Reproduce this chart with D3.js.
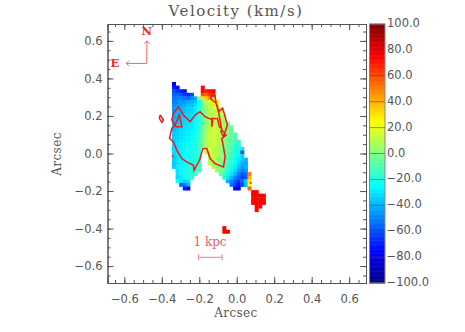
<!DOCTYPE html>
<html>
<head>
<meta charset="utf-8">
<script src="https://cdn.jsdelivr.net/npm/d3@7"></script>
<style>
  html, body { margin: 0; padding: 0; background: #fff; }
  svg { display: block; }
  text { fill: #555; font-family: "DejaVu Sans", sans-serif; font-size: 11.5px; }
  .serif { font-family: "DejaVu Serif", serif; }
  .axis path, .axis line { stroke: #555; stroke-width: 1; fill: none; }
  .note { fill: #ff2020; font-family: "DejaVu Serif", serif; }
</style>
</head>
<body>
<svg width="465" height="332"></svg>
<script>
// axis ticks
const axisTicks = [-0.6, -0.4, -0.2, 0, 0.2, 0.4, 0.6];
const minorTicks = d3.range(-13, 14).map(d => d * 0.05);
const barTicks = [-100, -80, -60, -40, -20, 0, 20, 40, 60, 80, 100];

// velocity map: row index, first column, then one value per cell
const cellRows = [0, 1, 1, 2, 2, 3, 3, 4, 5, 6, 7, 8, 9, 10, 11, 12, 13, 14, 15, 16, 17, 18, 18, 19, 19, 20, 20, 21, 21, 22, 22, 23, 23, 24, 24, 25, 25, 26, 26, 27, 27, 28, 28, 29, 29, 29, 30, 31, 32, 33, 34, 35, 40, 41];
const cellStarts = [0, 0, 8, 0, 8, 0, 8, 0, 0, 0, 0, 0, 0, 0, 0, 0, 0, 0, 0, 0, 0, 0, 9, 0, 9, 0, 10, 0, 10, 0, 10, 0, 11, 1, 12, 1, 13, 1, 14, 1, 15, 2, 16, 3, 17, 21, 22, 22, 22, 22, 23, 23, 14, 14];
const cellValues = [
  [-78],
  [-70, -75],
  [75],
  [-60, -65, -70, -72],
  [76, 70, 72, 75],
  [-55, -55, -60, -65, -68, -60],
  [60, 55, 65, 70],
  [-52, -50, -50, -52, -55, -48, -42, 0, 30, 35, 45, 30],
  [-50, -48, -45, -45, -42, -40, -35, -25, -2, 12, 18, 22, 20],
  [-47, -45, -42, -40, -38, -36, -30, -20, -5, 6, 12, 16, 18],
  [-45, -42, -40, -38, -35, -33, -28, -18, -6, 4, 10, 13, 15, 13],
  [-42, -40, -38, -36, -33, -32, -28, -18, -8, 2, 9, 11, 13, 11],
  [-42, -40, -36, -34, -32, -30, -26, -18, -8, 2, 8, 11, 12, 11, 6],
  [-40, -38, -35, -33, -32, -30, -26, -18, -8, 2, 9, 12, 12, 10, 5],
  [-38, -37, -34, -32, -30, -28, -25, -18, -8, 2, 9, 13, 13, 11, 5, 0],
  [-38, -36, -33, -31, -30, -28, -24, -16, -6, 4, 11, 14, 14, 11, 5, 0, -4],
  [-37, -35, -32, -30, -28, -27, -23, -16, -5, 5, 12, 15, 14, 11, 4, 0, -4],
  [-35, -34, -31, -29, -28, -26, -22, -15, -4, 6, 13, 15, 14, 10, 3, -2, -6, -8],
  [-34, -32, -30, -28, -27, -25, -21, -14, -3, 7, 13, 15, 13, 9, 2, -3, -7, -10],
  [-33, -31, -29, -27, -26, -24, -20, -13, -2, 8, 13, 14, 12, 8, 1, -4, -8, -12, -15],
  [-32, -30, -28, -27, -25, -23, -20, -12, -2, 8, 13, 14, 11, 7, 0, -5, -10, -14, -18],
  [-32, -30, -28, -26, -25, -23, -20, -14],
  [10, 13, 13, 10, 4, -2, -7, -12, -18, -22, -28],
  [-32, -30, -28, -26, -24, -22, -19, -15],
  [10, 13, 13, 10, 4, -2, -8, -13, -18, -24, -55],
  [-33, -30, -28, -26, -24, -22, -19, -15],
  [13, 13, 10, 4, -2, -8, -13, -19, -25, -32],
  [-34, -30, -27, -25, -23, -21, -18, -14],
  [11, 10, 7, 2, -4, -10, -16, -22, -28, -35, -38],
  [-35, -30, -27, -24, -22, -20, -17, -14],
  [10, 9, 5, 0, -6, -12, -18, -25, -32, -40, -42],
  [-34, -28, -25, -22, -20, -18, -15, -12],
  [8, 3, -2, -8, -14, -20, -28, -36, -44, -40],
  [-30, -26, -23, -20, -18, -16, -14],
  [5, -2, -8, -16, -24, -32, -42, -50, -45],
  [-30, -26, -22, -19, -17, -15],
  [-6, -12, -22, -30, -40, -50, -58, -55, 50],
  [-32, -28, -23, -20, -18],
  [-18, -28, -38, -48, -55, -62, -58, 40],
  [-22, -30, -35, -30],
  [-40, -50, -60, -65, -55, -35, 30],
  [-55, -50, -40],
  [-52, -62, -70, -60, -40, 25],
  [-70, -78],
  [-75, -78],
  [55],
  [75, 75],
  [75, 75, 75, 75],
  [75, 75, 75, 75],
  [75, 75, 75, 75],
  [75, 75],
  [75],
  [75],
  [75, 75]
];

// flux contours in arcsec
const contourX = [-0.142, -0.116, -0.110, -0.098, -0.075, -0.062, -0.050, -0.071, -0.084, -0.080, -0.093, -0.103, -0.133, -0.133, -0.128, -0.169, -0.196, -0.222, -0.249, -0.285, -0.311, -0.338, -0.347, -0.329, -0.347, -0.359, -0.338, -0.320, -0.293, -0.267, -0.231, -0.228, -0.199, -0.196, -0.181, -0.160, -0.142, -0.116, -0.071, -0.062, -0.071, -0.080, -0.057, -0.080, -0.089, -0.103, -0.110, -0.133, -0.142];
const contourY = [0.303, 0.307, 0.268, 0.223, 0.241, 0.196, 0.152, 0.089, 0.116, 0.134, 0.143, 0.187, 0.187, 0.143, 0.178, 0.196, 0.223, 0.205, 0.170, 0.205, 0.250, 0.214, 0.178, 0.152, 0.134, 0.080, 0.062, 0.018, -0.027, -0.045, -0.063, -0.090, -0.036, -0.027, 0.027, 0.027, -0.027, -0.054, -0.072, -0.018, 0.035, 0.080, 0.098, 0.125, 0.178, 0.250, 0.268, 0.285, 0.303];
const loopX = [-0.329, -0.306, -0.293, -0.324, -0.338, -0.329];
const loopY = [0.152, 0.205, 0.143, 0.143, 0.160, 0.152];
const diamondX = [-0.409, -0.391, -0.400, -0.413, -0.409];
const diamondY = [0.205, 0.178, 0.166, 0.187, 0.205];
const spotX = [-0.342, 0.026, 0.074];
const spotY = [-0.014, 0.005, -0.157];

// IDL style rainbow
const velocityColor = d3.scaleLinear()
  .domain([-100, -75, -25, 25, 75, 100])
  .range(["#00007f", "#0000ff", "#00ffff", "#ffff00", "#ff0000", "#7f0000"])
  .clamp(true);

const svg = d3.select("svg");
const plotLeft = 107.5, plotRight = 366, plotTop = 24, plotBottom = 283;

const xScale = d3.scaleLinear().domain([-0.69, 0.69]).range([plotLeft, plotRight]);
const yScale = d3.scaleLinear().domain([0.69, -0.69]).range([plotTop, plotBottom]);

// grid cell size in arcsec, grid origin is the top left corner of the map
const cellSize = 0.0192;
const gridX = xScale.invert(172);
const gridY = yScale.invert(82);

const cells = [];
cellRows.forEach((row, i) => {
  cellValues[i].forEach((v, k) => cells.push({ row: row, col: cellStarts[i] + k, v: v }));
});

// velocity map
svg.append("g")
  .selectAll("rect")
  .data(cells)
  .enter()
  .append("rect")
  .attr("x", d => xScale(gridX + d.col * cellSize))
  .attr("y", d => yScale(gridY - d.row * cellSize))
  .attr("width", xScale(cellSize) - xScale(0) + 0.4)
  .attr("height", yScale(0) - yScale(cellSize) + 0.4)
  .attr("fill", d => velocityColor(d.v));

// contours
const arcLine = d3.line().x(d => xScale(d[0])).y(d => yScale(d[1]));
const contours = [
  d3.zip(contourX, contourY),
  d3.zip(loopX, loopY),
  d3.zip(diamondX, diamondY)
];
svg.append("g")
  .selectAll("path")
  .data(contours)
  .enter()
  .append("path")
  .attr("d", arcLine)
  .attr("fill", "none")
  .attr("stroke", "#f01820")
  .attr("stroke-width", 1.5);

svg.append("g")
  .selectAll("circle")
  .data(d3.zip(spotX, spotY))
  .enter()
  .append("circle")
  .attr("cx", d => xScale(d[0]))
  .attr("cy", d => yScale(d[1]))
  .attr("r", 1)
  .attr("fill", "#f01820");

// axes, ticks point inwards
const fmt = d => d3.format(".1f")(Math.abs(d) < 1e-9 ? 0 : d);
const axisGroup = (x, y) => svg.append("g").attr("class", "axis").attr("transform", `translate(${x}, ${y})`);

axisGroup(0, plotBottom).call(d3.axisBottom(xScale).tickValues(axisTicks).tickSize(-6).tickPadding(11.5).tickFormat(fmt));
axisGroup(plotLeft, 0).call(d3.axisLeft(yScale).tickValues(axisTicks).tickSize(-6).tickPadding(5).tickFormat(fmt));
axisGroup(0, plotTop).call(d3.axisTop(xScale).tickValues(axisTicks).tickSize(-6).tickFormat(""));
axisGroup(plotRight, 0).call(d3.axisRight(yScale).tickValues(axisTicks).tickSize(-6).tickFormat(""));

// minor ticks
axisGroup(0, plotBottom).call(d3.axisBottom(xScale).tickValues(minorTicks).tickSize(-3).tickFormat(""));
axisGroup(plotLeft, 0).call(d3.axisLeft(yScale).tickValues(minorTicks).tickSize(-3).tickFormat(""));
axisGroup(0, plotTop).call(d3.axisTop(xScale).tickValues(minorTicks).tickSize(-3).tickFormat(""));
axisGroup(plotRight, 0).call(d3.axisRight(yScale).tickValues(minorTicks).tickSize(-3).tickFormat(""));

svg.selectAll(".axis text").attr("font-size", null).attr("font-family", null);

// titles
svg.append("text").attr("class", "serif")
  .attr("x", 236).attr("y", 16).attr("text-anchor", "middle")
  .style("font-size", "15px").style("letter-spacing", "1.5px")
  .text("Velocity (km/s)");
svg.append("text").attr("class", "serif")
  .attr("x", 236).attr("y", 317).attr("text-anchor", "middle")
  .style("font-size", "12px").style("letter-spacing", "0.4px")
  .text("Arcsec");
svg.append("text").attr("class", "serif")
  .attr("transform", "translate(61, 154) rotate(-90)").attr("text-anchor", "middle")
  .style("font-size", "12px").style("letter-spacing", "0.4px")
  .text("Arcsec");

// colour bar
const barX = 369.5, barW = 15.5;
const barScale = d3.scaleLinear().domain([-100, 100]).range([plotBottom, plotTop]);
svg.append("g")
  .selectAll("rect")
  .data(d3.range(-100, 100, 1))
  .enter()
  .append("rect")
  .attr("x", barX)
  .attr("y", d => barScale(d + 1))
  .attr("width", barW)
  .attr("height", barScale(0) - barScale(1) + 0.5)
  .attr("fill", d => velocityColor(d + 0.5));
svg.append("g")
  .selectAll("line")
  .data(barTicks)
  .enter()
  .append("line")
  .attr("x1", barX).attr("x2", barX + barW)
  .attr("y1", d => barScale(d)).attr("y2", d => barScale(d))
  .attr("stroke", "#444").attr("stroke-opacity", 0.55);
svg.append("rect")
  .attr("x", barX).attr("y", plotTop).attr("width", barW).attr("height", plotBottom - plotTop)
  .attr("fill", "none").attr("stroke", "#888");
svg.append("g")
  .selectAll("text")
  .data(barTicks)
  .enter()
  .append("text")
  .attr("x", d => d < 0 ? 386.5 : 387)
  .attr("y", d => barScale(d) + 3)
  .text(d => d3.format(".1f")(d));

// compass
const arrowLines = [
  [[-0.48, 0.6], [-0.48, 0.48], [-0.59, 0.48]],
  [[-0.495, 0.585], [-0.48, 0.6], [-0.465, 0.585]],
  [[-0.575, 0.495], [-0.59, 0.48], [-0.575, 0.465]]
];
svg.append("g")
  .selectAll("path")
  .data(arrowLines)
  .enter()
  .append("path")
  .attr("d", arcLine)
  .attr("fill", "none")
  .attr("stroke", "#f86060");
svg.append("text").attr("class", "note")
  .attr("x", xScale(-0.48)).attr("y", 35).attr("text-anchor", "middle")
  .style("font-size", "11.5px").style("font-weight", "bold").text("N");
svg.append("text").attr("class", "note")
  .attr("x", 115).attr("y", 67).attr("text-anchor", "middle")
  .style("font-size", "11.5px").style("font-weight", "bold").text("E");

// scale bar
const kpc = [[-0.205, -0.553], [-0.078, -0.553]];
svg.append("path")
  .attr("d", arcLine(kpc))
  .attr("stroke", "#f08080");
svg.append("g")
  .selectAll("line")
  .data(kpc)
  .enter()
  .append("line")
  .attr("x1", d => xScale(d[0])).attr("x2", d => xScale(d[0]))
  .attr("y1", d => yScale(d[1]) - 3).attr("y2", d => yScale(d[1]) + 3)
  .attr("stroke", "#f08080");
svg.append("text").attr("class", "note")
  .attr("x", 210).attr("y", 246).attr("text-anchor", "middle")
  .style("font-size", "12px").style("fill", "#f06060").text("1 kpc");
</script>
</body>
</html>
